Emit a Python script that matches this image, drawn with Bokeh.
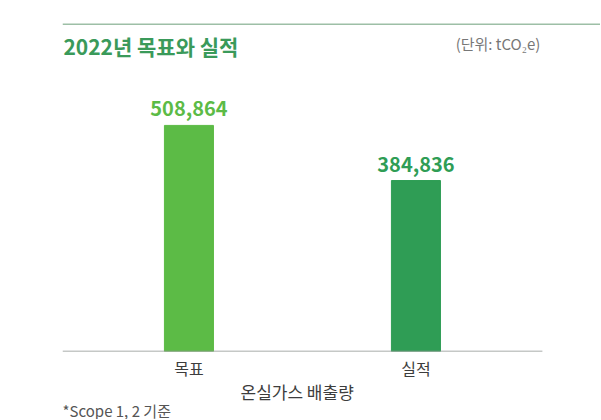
from bokeh.plotting import figure
from bokeh.models import Range1d, Label, LabelSet, Span, Title, FixedTicker, ColumnDataSource
from bokeh.core.properties import value
from bokeh.embed import file_html
from bokeh.resources import INLINE

categories = ["목표", "실적"]
values = [508864, 384836]
value_labels = ["508,864", "384,836"]
bar_colors = ["#5cbb46", "#2f9d55"]

title_text = "2022년 목표와 실적"
unit_text = "(단위: tCO₂e)"
axis_title = "온실가스 배출량"
footnote = "*Scope 1, 2 기준"

FONT = "Noto Sans CJK KR"

xs = list(range(len(categories)))
src = ColumnDataSource(dict(x=xs, cat=categories, val=values, lab=value_labels, col=bar_colors))

X0, X1 = -0.557, 1.813
p = figure(frame_width=538, frame_height=351, output_backend="svg", toolbar_location=None,
           x_range=Range1d(X0, X1), y_range=Range1d(0, 790000),
           min_border_left=62, min_border_right=0, min_border_top=0, min_border_bottom=0)

p.vbar(x="x", top="val", width=0.216, color="col", source=src)

# baseline
p.segment(x0=[X0], x1=[1.557], y0=[0], y1=[0], line_color="#8c918e", line_width=1.5)

p.add_layout(LabelSet(x="x", y="val", text="lab", source=src, y_offset=9,
                      text_align="center", text_baseline="alphabetic",
                      text_font=value(FONT), text_font_size=value("20px"),
                      text_font_style=value("bold"), text_color="col"))

p.outline_line_color = None
p.grid.visible = False
p.yaxis.visible = False
p.background_fill_color = None
p.border_fill_color = "white"

ax = p.xaxis[0]
ax.ticker = FixedTicker(ticks=xs)
ax.major_label_overrides = {i: c for i, c in zip(xs, categories)}
ax.axis_line_color = None
ax.major_tick_line_color = None
ax.minor_tick_line_color = None
ax.major_tick_out = 0
ax.major_tick_in = 0
ax.major_label_text_font = FONT
ax.major_label_text_font_size = "16px"
ax.major_label_text_color = "#3d3d3d"
ax.major_label_standoff = 4

# top rule
p.add_layout(Span(location=736300, dimension="width", line_color="#9dbfa6", line_width=1.5))

p.add_layout(Label(x=-0.553, y=686700, text=title_text,
                   text_font=FONT, text_font_size="21px", text_font_style="bold",
                   text_color="#3a9a5a", text_baseline="middle", text_align="left"))
p.add_layout(Label(x=1.548, y=693500, text=unit_text,
                   text_font=FONT, text_font_size="15px",
                   text_color="#777777", text_baseline="middle", text_align="right"))

p.add_layout(Title(text=axis_title, align="left", text_font=FONT, text_font_size="17px",
                   text_font_style="normal", text_color="#3d3d3d", standoff=-11, offset=178), "below")
p.add_layout(Title(text=footnote, align="left", text_font=FONT, text_font_size="15px",
                   text_font_style="normal", text_color="#555555", standoff=-2, offset=0), "below")

open("out.html", "w").write(file_html(p, INLINE))
